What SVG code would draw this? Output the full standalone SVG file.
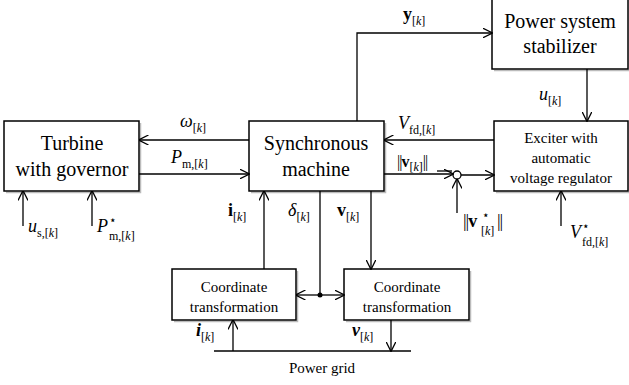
<svg xmlns="http://www.w3.org/2000/svg" width="629" height="385" viewBox="0 0 629 385" font-family="Liberation Serif">
<style>
.box{fill:#fff;stroke:#000;stroke-width:1.5}
.shd{fill:none;stroke:#bbb;stroke-width:1.5}
.ln{fill:none;stroke:#000;stroke-width:1.3}
</style>
<defs>
<marker id="a" viewBox="0 0 10 10" refX="9.5" refY="5" markerWidth="10" markerHeight="10" markerUnits="userSpaceOnUse" orient="auto">
<path d="M0,0 L10,5 L0,10" fill="none" stroke="#000" stroke-width="1.3"/>
</marker>
</defs>
<rect width="629" height="385" fill="#fff"/>

<g id="turbine">
<path class="shd" d="M6,192.5 H140.5 V123"/>
<rect class="box" x="4" y="121" width="135" height="70"/>
<g font-family="Times New Roman, Liberation Serif, serif" font-size="20" text-anchor="middle">
<text x="72" y="150">Turbine</text>
<text x="72" y="176">with governor</text>
</g>
</g>
<g id="sync">
<path class="shd" d="M251,192.5 H385.5 V123"/>
<rect class="box" x="249" y="121" width="135" height="70"/>
<g font-family="Times New Roman, Liberation Serif, serif" font-size="20" text-anchor="middle">
<text x="316" y="150">Synchronous</text>
<text x="316" y="176">machine</text>
</g>
</g>
<g id="pss">
<path class="shd" d="M494,70.5 H629.5 V0"/>
<rect class="box" x="492" y="-2" width="136" height="71"/>
<g font-family="Times New Roman, Liberation Serif, serif" font-size="20" text-anchor="middle">
<text x="560" y="28">Power system</text>
<text x="560" y="53">stabilizer</text>
</g>
</g>
<g id="exciter">
<path class="shd" d="M496,192.5 H629.5 V123"/>
<rect class="box" x="494" y="121" width="134" height="70"/>
<g font-family="Times New Roman, Liberation Serif, serif" font-size="15" text-anchor="middle">
<text x="561" y="143">Exciter with</text>
<text x="561" y="163">automatic</text>
<text x="561" y="183">voltage regulator</text>
</g>
</g>
<g id="coord1">
<path class="shd" d="M174,321.5 H297.5 V271"/>
<rect class="box" x="172" y="269" width="124" height="51"/>
<g font-family="Times New Roman, Liberation Serif, serif" font-size="15" text-anchor="middle">
<text x="234" y="292">Coordinate</text>
<text x="234" y="312">transformation</text>
</g>
</g>
<g id="coord2">
<path class="shd" d="M346,321.5 H470.5 V271"/>
<rect class="box" x="344" y="269" width="125" height="51"/>
<g font-family="Times New Roman, Liberation Serif, serif" font-size="15" text-anchor="middle">
<text x="407" y="292">Coordinate</text>
<text x="407" y="312">transformation</text>
</g>
</g>
<g id="grid">
<line class="ln" x1="214" y1="351" x2="411" y2="351"/>
<text x="322" y="373" font-family="Times New Roman, Liberation Serif, serif" font-size="15" text-anchor="middle">Power grid</text>
</g>
<g id="sum">
<circle cx="457" cy="175" r="4" fill="#fff" stroke="#000" stroke-width="1.3"/>
</g>

<g id="connectors">
<path class="ln" d="M249,140 H139" marker-end="url(#a)"/>
<path class="ln" d="M139,174 H249" marker-end="url(#a)"/>
<path class="ln" d="M357,121 V33 H492" marker-end="url(#a)"/>
<path class="ln" d="M587,69 V121" marker-end="url(#a)"/>
<path class="ln" d="M494,140 H384" marker-end="url(#a)"/>
<path class="ln" d="M384,174 H453" marker-end="url(#a)"/>
<path class="ln" d="M461,175 H494" marker-end="url(#a)"/>
<path class="ln" d="M457,213 V179" marker-end="url(#a)"/>
<path class="ln" d="M561,226 V191" marker-end="url(#a)"/>
<path class="ln" d="M23,226 V191" marker-end="url(#a)"/>
<path class="ln" d="M92,226 V191" marker-end="url(#a)"/>
<path class="ln" d="M264,269 V191" marker-end="url(#a)"/>
<path class="ln" d="M320,191 V295"/>
<path class="ln" d="M320,295 H296" marker-end="url(#a)"/>
<path class="ln" d="M320,295 H344" marker-end="url(#a)"/>
<circle cx="320" cy="295" r="2.5" fill="#000"/>
<path class="ln" d="M371,191 V269" marker-end="url(#a)"/>
<path class="ln" d="M233,351 V320" marker-end="url(#a)"/>
<path class="ln" d="M391,320 V351" marker-end="url(#a)"/>
</g>

<g id="labels" font-family="Times New Roman, Liberation Serif, serif" font-size="18">
<text x="180" y="127" font-style="italic">ω<tspan font-size="12" font-style="normal" dy="5">[<tspan font-style="italic">k</tspan>]</tspan></text>
<text x="171" y="163" font-style="italic">P<tspan font-size="12" font-style="normal" dy="5">m,[<tspan font-style="italic">k</tspan>]</tspan></text>
<text x="28" y="232" font-style="italic">u<tspan font-size="12" font-style="normal" dy="5">s,[<tspan font-style="italic">k</tspan>]</tspan></text>
<text x="97" y="232" font-style="italic">P</text>
<text x="109" y="224" font-size="12">⋆</text>
<text x="109" y="240" font-size="12">m,[<tspan font-style="italic">k</tspan>]</text>
<text x="228" y="216" font-weight="bold">i<tspan font-size="12" font-weight="normal" dy="5">[<tspan font-style="italic">k</tspan>]</tspan></text>
<text x="288" y="216" font-style="italic">δ<tspan font-size="12" font-style="normal" dy="5">[<tspan font-style="italic">k</tspan>]</tspan></text>
<text x="337" y="216" font-weight="bold">v<tspan font-size="12" font-weight="normal" dy="5">[<tspan font-style="italic">k</tspan>]</tspan></text>
<text x="196" y="336" font-weight="bold" font-style="italic">i<tspan font-size="12" font-weight="normal" font-style="normal" dy="5">[<tspan font-style="italic">k</tspan>]</tspan></text>
<text x="352" y="336" font-weight="bold" font-style="italic">v<tspan font-size="12" font-weight="normal" font-style="normal" dy="5">[<tspan font-style="italic">k</tspan>]</tspan></text>
<text x="403" y="20" font-weight="bold">y<tspan font-size="12" font-weight="normal" dy="5">[<tspan font-style="italic">k</tspan>]</tspan></text>
<text x="539" y="100" font-style="italic">u<tspan font-size="12" font-style="normal" dy="5">[<tspan font-style="italic">k</tspan>]</tspan></text>
<text x="398" y="129" font-style="italic">V<tspan font-size="12" font-style="normal" dy="5">fd,[<tspan font-style="italic">k</tspan>]</tspan></text>
<text x="397" y="167" font-size="16" letter-spacing="-1">||<tspan font-weight="bold" letter-spacing="0">v</tspan><tspan font-size="12" letter-spacing="0" dy="4">[<tspan font-style="italic">k</tspan>]</tspan><tspan dy="-4">||</tspan></text>
<line x1="437" y1="171" x2="452" y2="171" stroke="#000" stroke-width="1.3"/>
<text x="463" y="227" letter-spacing="-1">||<tspan font-weight="bold" letter-spacing="0">v</tspan></text>
<text x="482" y="219" font-size="12">⋆</text>
<text x="481" y="235" font-size="12">[<tspan font-style="italic">k</tspan>]</text>
<text x="497" y="227" letter-spacing="-1">||</text>
<text x="570" y="238" font-style="italic">V</text>
<text x="582" y="230" font-size="12">⋆</text>
<text x="582" y="246" font-size="12">fd,[<tspan font-style="italic">k</tspan>]</text>
</g>
</svg>
